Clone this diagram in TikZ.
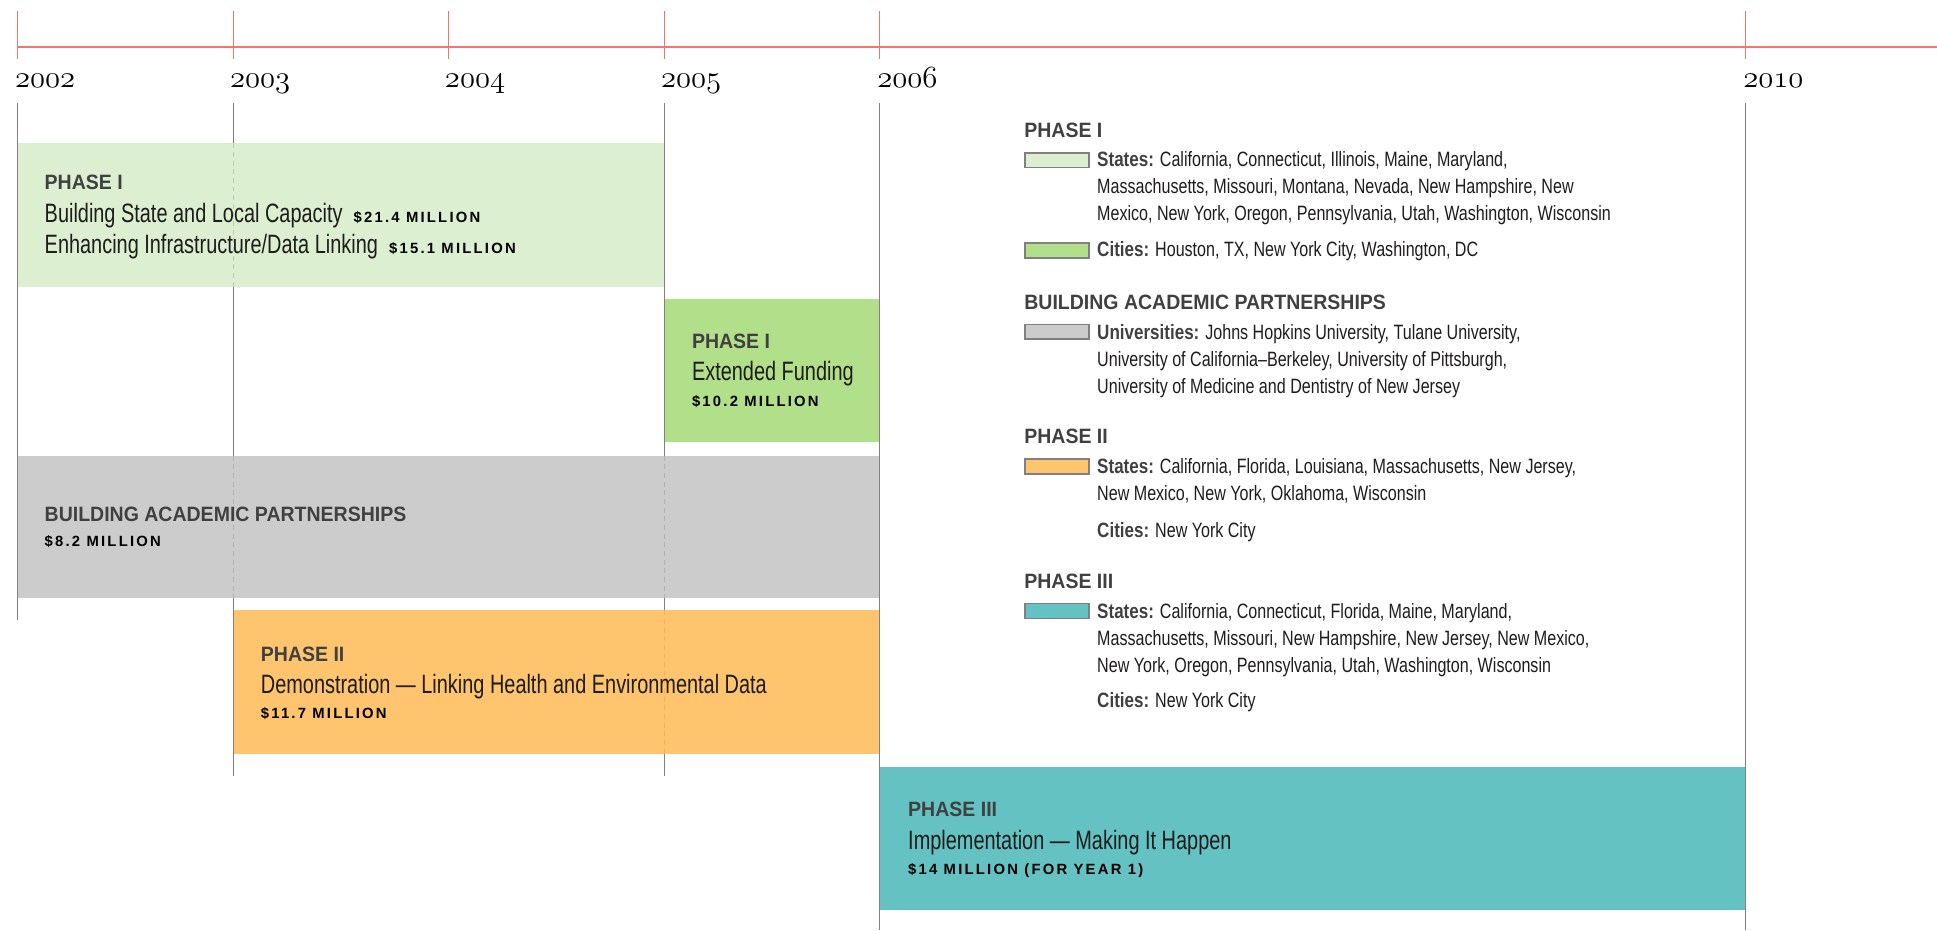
\documentclass[tikz,border=0pt]{standalone}
\usepackage{fontspec}
\usepackage{tikz}
\usetikzlibrary{shapes,positioning}
\newfontfamily\bodyfont{Liberation Sans}[FakeStretch=0.75]
\newfontfamily\legfont{Liberation Sans}[FakeStretch=0.775]
\newfontfamily\headfont{Liberation Sans}[FakeStretch=0.94]
\newfontfamily\keyfont{Liberation Sans}[FakeStretch=0.82]
\newfontfamily\moneyfont{Liberation Sans}[LetterSpace=15]
\definecolor{axisred}{RGB}{240,120,104}
\definecolor{gridgray}{RGB}{128,128,128}
\definecolor{headgray}{RGB}{64,64,64}
\definecolor{ink}{RGB}{30,28,28}
\definecolor{paleleaf}{RGB}{220,239,208}
\definecolor{leaf}{RGB}{178,223,138}
\definecolor{stone}{RGB}{204,204,204}
\definecolor{apricot}{RGB}{254,196,110}
\definecolor{teal}{RGB}{100,194,194}
\newcommand{\amount}[1]{{\moneyfont\bfseries\fontsize{12}{14}\selectfont\color{black}#1}}
\newcommand{\key}[1]{\leavevmode{\keyfont\bfseries\color{headgray}#1}}
\newcommand{\yearnum}[1]{{\usefont{OML}{cmm}{m}{it}#1}}
\tikzstyle{bar} = [rectangle, inner sep=0pt, outer sep=0pt, anchor=north west]
\tikzstyle{head} = [anchor=base west, inner sep=0pt, text=headgray,
    font=\headfont\bfseries\fontsize{16.8}{20}\selectfont]
\tikzstyle{title} = [anchor=base west, inner sep=0pt, text=ink,
    font=\bodyfont\fontsize{21.5}{25}\selectfont]
\tikzstyle{money} = [anchor=base west, inner sep=0pt,
    font=\moneyfont\bfseries\fontsize{12}{14}\selectfont]
\tikzstyle{legtext} = [anchor=base west, inner sep=0pt, text=ink,
    font=\legfont\fontsize{16.8}{21.9}\selectfont]
\tikzstyle{swatch} = [rectangle, draw=gridgray, line width=1.3pt, inner sep=0pt,
    minimum width=52pt, minimum height=12pt, anchor=north west]
\tikzstyle{year} = [anchor=base west, inner sep=0pt, font=\fontsize{25}{25}\selectfont]
\tikzstyle{grid} = [draw=gridgray, line width=1.2pt]
\tikzstyle{gridcut} = [line width=1.2pt, dash pattern=on 4pt off 3pt]
\begin{document}
\begin{tikzpicture}[x=1pt, y=-1pt]
\useasboundingbox (0,0) rectangle (1568,753);

% time axis
\draw [axisred, line width=2pt] (14,38) -- (1568,38);
\draw [axisred, line width=1.2pt] (14,9) -- (14,48);
\draw [axisred, line width=1.2pt] (189,9) -- (189,48);
\draw [axisred, line width=1.2pt] (363,9) -- (363,48);
\draw [axisred, line width=1.2pt] (538,9) -- (538,48);
\draw [axisred, line width=1.2pt] (712,9) -- (712,48);
\draw [axisred, line width=1.2pt] (1413,9) -- (1413,48);

\node [year] (y2002) at (12,71) {\yearnum{2002}};
\node [year] (y2003) at (186,71) {\yearnum{2003}};
\node [year] (y2004) at (360,71) {\yearnum{2004}};
\node [year] (y2005) at (535,71) {\yearnum{2005}};
\node [year] (y2006) at (710,71) {\yearnum{2006}};
\node [year] (y2010) at (1411,71) {\yearnum{2010}};

% funding bars
\node [bar, fill=paleleaf, minimum width=524pt, minimum height=116pt] (phaseone) at (14,116) {};
\node [bar, fill=leaf, minimum width=174pt, minimum height=116pt] (extended) at (538,242) {};
\node [bar, fill=stone, minimum width=698pt, minimum height=115pt] (academic) at (14,369) {};
\node [bar, fill=apricot, minimum width=523pt, minimum height=116pt] (phasetwo) at (189,494) {};
\node [bar, fill=teal, minimum width=701pt, minimum height=116pt] (phasethree) at (712,621) {};

% year lines
\path [grid] (14,83) -- (14,502);
\path [grid] (189,83) -- (189,116);
\path [grid] (189,232) -- (189,369);
\path [grid] (189,484) -- (189,628);
\path [grid] (538,83) -- (538,369);
\path [grid] (538,484) -- (538,494);
\path [grid] (538,610) -- (538,628);
\path [grid] (712,83) -- (712,753);
\path [grid] (1413,83) -- (1413,753);
\draw [gridcut, paleleaf!65!gridgray] (189,116) -- (189,232);
\draw [gridcut, stone!65!gridgray] (189,369) -- (189,484);
\draw [gridcut, stone!65!gridgray] (538,369) -- (538,484);
\draw [gridcut, apricot!70!orange] (538,494) -- (538,610);

% bar labels
\node [head] (phaseonehead) at (36,153) {PHASE I};
\node [title] (capacity) at (36,180) {Building State and Local Capacity\hspace{9pt}\amount{\$21.4 MILLION}};
\node [title] (linking) at (36,205) {Enhancing Infrastructure/Data Linking\hspace{9pt}\amount{\$15.1 MILLION}};

\node [head] (extendedhead) at (560,282.5) {PHASE I};
\node [title] (extendedtitle) at (560,308) {Extended Funding};
\node [money] (extendedmoney) at (560,329) {\$10.2 MILLION};

\node [head] (academichead) at (36,422) {BUILDING ACADEMIC PARTNERSHIPS};
\node [money] (academicmoney) at (36,442.5) {\$8.2 MILLION};

\node [head] (phasetwohead) at (211,535.5) {PHASE II};
\node [title] (phasetwotitle) at (211,561.5) {Demonstration — Linking Health and Environmental Data};
\node [money] (phasetwomoney) at (211,581.5) {\$11.7 MILLION};

\node [head] (phasethreehead) at (735,661) {PHASE III};
\node [title] (phasethreetitle) at (735,688) {Implementation — Making It Happen};
\node [money] (phasethreemoney) at (735,708) {\$14 MILLION (FOR YEAR 1)};

% legend
\node [head] (keyone) at (829,111) {PHASE I};
\node [swatch, fill=paleleaf] (keyonestates) at (829,123) {};
\node [legtext] (keyonestatestext) at (888,135) {\parbox[t]{460pt}{\key{States:} California, Connecticut, Illinois, Maine, Maryland,\\
Massachusetts, Missouri, Montana, Nevada, New Hampshire, New\\
Mexico, New York, Oregon, Pennsylvania, Utah, Washington, Wisconsin}};
\node [swatch, fill=leaf] (keyonecities) at (829,196) {};
\node [legtext] (keyonecitiestext) at (888,208) {\key{Cities:} Houston, TX, New York City, Washington, DC};

\node [head] (keyacademic) at (829,250.5) {BUILDING ACADEMIC PARTNERSHIPS};
\node [swatch, fill=stone] (keyacademicunis) at (829,262) {};
\node [legtext] (keyacademictext) at (888,274.5) {\parbox[t]{460pt}{\key{Universities:} Johns Hopkins University, Tulane University,\\
University of California–Berkeley, University of Pittsburgh,\\
University of Medicine and Dentistry of New Jersey}};

\node [head] (keytwo) at (829,359) {PHASE II};
\node [swatch, fill=apricot] (keytwostates) at (829,371) {};
\node [legtext] (keytwostatestext) at (888,383.5) {\parbox[t]{460pt}{\key{States:} California, Florida, Louisiana, Massachusetts, New Jersey,\\
New Mexico, New York, Oklahoma, Wisconsin}};
\node [legtext] (keytwocities) at (888,435) {\key{Cities:} New York City};

\node [head] (keythree) at (829,476.5) {PHASE III};
\node [swatch, fill=teal] (keythreestates) at (829,488) {};
\node [legtext] (keythreestatestext) at (888,500.5) {\parbox[t]{460pt}{\key{States:} California, Connecticut, Florida, Maine, Maryland,\\
Massachusetts, Missouri, New Hampshire, New Jersey, New Mexico,\\
New York, Oregon, Pennsylvania, Utah, Washington, Wisconsin}};
\node [legtext] (keythreecities) at (888,573) {\key{Cities:} New York City};
\end{tikzpicture}
\end{document}
